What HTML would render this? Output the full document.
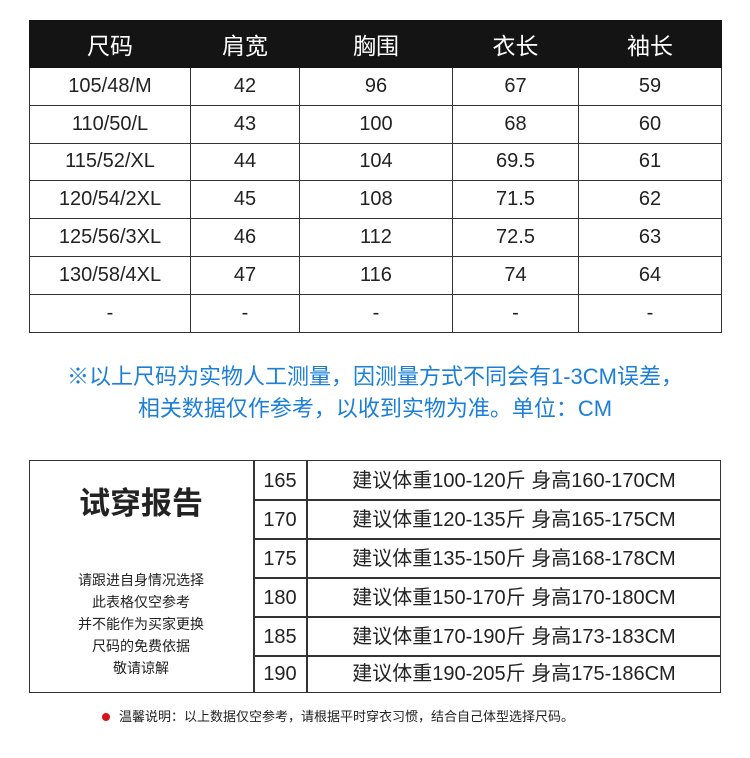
<!DOCTYPE html>
<html><head><meta charset="utf-8"><style>
body{margin:0;width:750px;height:758px;background:#fff;position:relative;font-family:"Liberation Sans","Noto Sans CJK SC",sans-serif;color:#222;overflow:hidden}
.a{position:absolute}
.t{border-collapse:collapse;position:absolute;table-layout:fixed}
.t td{border:1.5px solid #333;text-align:center;vertical-align:middle;padding:0;font-size:20px}
.c{position:absolute;display:flex;align-items:center;justify-content:center;font-size:20px;line-height:20px;height:39px}
.h{position:absolute;height:1.5px;background:#333}
.v{position:absolute;width:1.5px;background:#333}
</style></head><body>
<table class="t" style="left:29px;top:20px;width:692px">
<colgroup><col style="width:161px"><col style="width:109px"><col style="width:153px"><col style="width:126px"><col style="width:143px"></colgroup>
<tr style="height:47px;background:#141414;color:#fff"><td style="font-size:23px;border-color:#141414">尺码</td><td style="font-size:23px;border-color:#141414">肩宽</td><td style="font-size:23px;border-color:#141414">胸围</td><td style="font-size:23px;border-color:#141414">衣长</td><td style="font-size:23px;border-color:#141414">袖长</td></tr>
<tr style="height:37.8px"><td>105/48/M</td><td>42</td><td>96</td><td>67</td><td>59</td></tr>
<tr style="height:37.8px"><td>110/50/L</td><td>43</td><td>100</td><td>68</td><td>60</td></tr>
<tr style="height:37.8px"><td>115/52/XL</td><td>44</td><td>104</td><td>69.5</td><td>61</td></tr>
<tr style="height:37.8px"><td>120/54/2XL</td><td>45</td><td>108</td><td>71.5</td><td>62</td></tr>
<tr style="height:37.8px"><td>125/56/3XL</td><td>46</td><td>112</td><td>72.5</td><td>63</td></tr>
<tr style="height:37.8px"><td>130/58/4XL</td><td>47</td><td>116</td><td>74</td><td>64</td></tr>
<tr style="height:37.8px"><td>-</td><td>-</td><td>-</td><td>-</td><td>-</td></tr>
</table>
<div class="a" style="left:0;width:750px;top:361px;text-align:center;color:#1b7fd8;font-size:22px;line-height:32px">※以上尺码为实物人工测量，因测量方式不同会有1-3CM误差，<br>相关数据仅作参考，以收到实物为准。单位：CM</div>

<div class="a" style="left:29px;top:460px;width:690px;height:231px;border:1.5px solid #333"></div>
<div class="v" style="left:253px;top:460px;height:233px"></div>
<div class="v" style="left:306px;top:460px;height:233px"></div>
<div class="h" style="left:253px;top:499px;width:468px"></div>
<div class="h" style="left:253px;top:538px;width:468px"></div>
<div class="h" style="left:253px;top:577px;width:468px"></div>
<div class="h" style="left:253px;top:616px;width:468px"></div>
<div class="h" style="left:253px;top:655px;width:468px"></div>
<div class="a" style="left:29px;width:224px;top:484px;text-align:center;font-size:31px;font-weight:bold;line-height:40px">试穿报告</div>
<div class="a" style="left:29px;width:224px;top:569px;text-align:center;font-size:14px;line-height:22px">请跟进自身情况选择<br>此表格仅空参考<br>并不能作为买家更换<br>尺码的免费依据<br>敬请谅解</div>
<div class="c" style="left:254px;width:52px;top:461px">165</div><div class="c" style="left:307px;width:414px;top:461px">建议体重100-120斤 身高160-170CM</div>
<div class="c" style="left:254px;width:52px;top:500px">170</div><div class="c" style="left:307px;width:414px;top:500px">建议体重120-135斤 身高165-175CM</div>
<div class="c" style="left:254px;width:52px;top:539px">175</div><div class="c" style="left:307px;width:414px;top:539px">建议体重135-150斤 身高168-178CM</div>
<div class="c" style="left:254px;width:52px;top:578px">180</div><div class="c" style="left:307px;width:414px;top:578px">建议体重150-170斤 身高170-180CM</div>
<div class="c" style="left:254px;width:52px;top:617px">185</div><div class="c" style="left:307px;width:414px;top:617px">建议体重170-190斤 身高173-183CM</div>
<div class="c" style="left:254px;width:52px;top:655px;height:37px">190</div><div class="c" style="left:307px;width:414px;top:655px;height:37px">建议体重190-205斤 身高175-186CM</div>

<div class="a" style="left:102px;top:713px;width:8px;height:8px;border-radius:50%;background:#d8141a"></div>
<div class="a" style="left:119px;top:707px;font-size:13px;line-height:20px">温馨说明：以上数据仅空参考，请根据平时穿衣习惯，结合自己体型选择尺码。</div>
</body></html>
